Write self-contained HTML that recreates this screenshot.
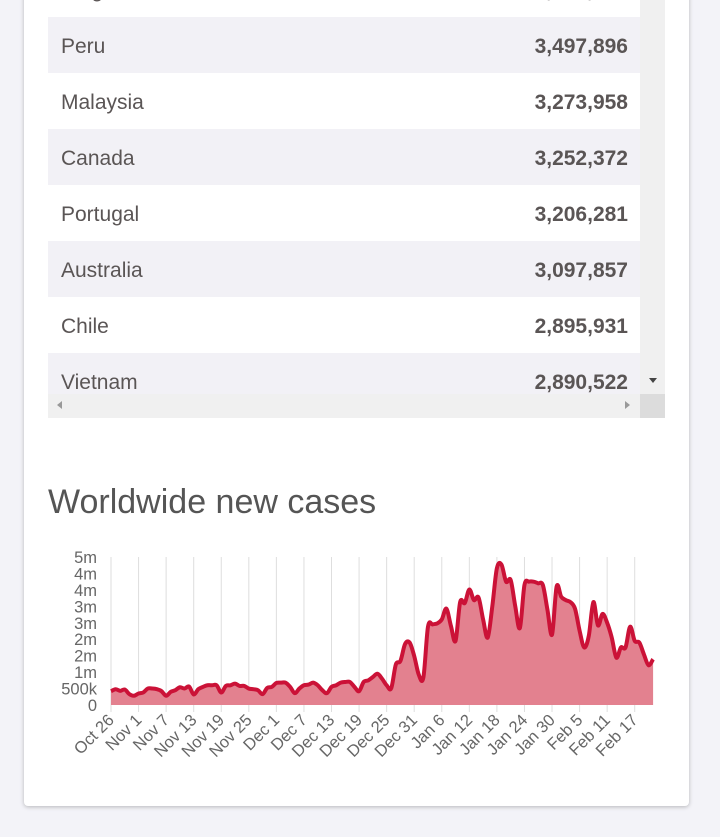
<!DOCTYPE html>
<html><head><meta charset="utf-8">
<style>
body{margin:0;width:720px;height:837px;background:#f3f3f8;overflow:hidden;font-family:"Liberation Sans",sans-serif;}
.card{position:absolute;left:24px;top:-10px;width:665px;height:816px;background:#fff;border-radius:4px;box-shadow:0 1px 4px rgba(0,0,0,.25);}
.tbl{position:absolute;left:48px;top:0;width:592px;height:394px;overflow:hidden;}
.row{position:absolute;left:0;width:592px;height:56px;font-size:21px;color:#5a5555;}
.row.g{background:#f2f1f6;}
.row .n{position:absolute;left:13px;top:18px;}
.row .v{position:absolute;right:12px;top:18px;font-weight:bold;}
.vs{position:absolute;left:640px;top:0;width:25px;height:394px;background:#f0f0f0;}
.hs{position:absolute;left:48px;top:394px;width:592px;height:24px;background:#f0f0f0;}
.corner{position:absolute;left:640px;top:394px;width:25px;height:24px;background:#dcdcdc;}
h2{position:absolute;left:48px;top:483px;margin:0;font-weight:normal;font-size:34px;color:#555;}
</style></head><body>
<div class="card"></div>
<div class="tbl">
 <div class="row" style="top:-39px"><span class="n">Belgium</span><span class="v">3,556,981</span></div>
 <div class="row g" style="top:17px"><span class="n">Peru</span><span class="v">3,497,896</span></div>
 <div class="row" style="top:73px"><span class="n">Malaysia</span><span class="v">3,273,958</span></div>
 <div class="row g" style="top:129px"><span class="n">Canada</span><span class="v">3,252,372</span></div>
 <div class="row" style="top:185px"><span class="n">Portugal</span><span class="v">3,206,281</span></div>
 <div class="row g" style="top:241px"><span class="n">Australia</span><span class="v">3,097,857</span></div>
 <div class="row" style="top:297px"><span class="n">Chile</span><span class="v">2,895,931</span></div>
 <div class="row g" style="top:353px"><span class="n">Vietnam</span><span class="v">2,890,522</span></div>
</div>
<div class="vs"><div style="position:absolute;left:9px;top:378px;border-left:4px solid transparent;border-right:4px solid transparent;border-top:5px solid #444"></div></div>
<div class="hs"><div style="position:absolute;left:9px;top:7px;border-top:4px solid transparent;border-bottom:4px solid transparent;border-right:5px solid #999"></div><div style="position:absolute;left:577px;top:7px;border-top:4px solid transparent;border-bottom:4px solid transparent;border-left:5px solid #999"></div></div>
<div class="corner"></div>
<h2>Worldwide new cases</h2>
<svg id="chart" width="720" height="837" style="position:absolute;left:0;top:0"></svg>
<script>
const values=[0.42,0.48,0.43,0.47,0.33,0.28,0.35,0.38,0.5,0.5,0.48,0.42,0.28,0.4,0.45,0.54,0.5,0.56,0.32,0.48,0.55,0.6,0.6,0.6,0.38,0.58,0.6,0.65,0.58,0.58,0.5,0.48,0.45,0.33,0.52,0.55,0.67,0.68,0.68,0.55,0.36,0.5,0.6,0.62,0.68,0.6,0.45,0.36,0.55,0.6,0.68,0.7,0.7,0.55,0.42,0.7,0.75,0.85,0.95,0.8,0.6,0.51,1.23,1.34,1.85,1.9,1.49,0.92,0.84,2.38,2.45,2.48,2.6,2.93,2.4,1.95,3.13,3.1,3.51,3.19,3.27,2.6,2.05,3.0,4.16,4.27,3.75,3.8,3.0,2.34,3.65,3.75,3.75,3.7,3.65,2.9,2.14,3.6,3.29,3.19,3.13,2.93,2.26,1.75,2.1,3.13,2.42,2.77,2.5,2.05,1.44,1.75,1.75,2.38,1.95,1.9,1.54,1.21,1.39];
const xLabels=["Oct 26","Nov 1","Nov 7","Nov 13","Nov 19","Nov 25","Dec 1","Dec 7","Dec 13","Dec 19","Dec 25","Dec 31","Jan 6","Jan 12","Jan 18","Jan 24","Jan 30","Feb 5","Feb 11","Feb 17"];
const xLabelDays=[0,6,12,18,24,30,36,42,48,54,60,66,72,78,84,90,96,102,108,114];
const yTicks=[0,0.5,1,1.5,2,2.5,3,3.5,4,4.5];
const yLabels=["0","500k","1m","2m","2m","3m","3m","4m","4m","5m"];
const svg=document.getElementById('chart');const NS='http://www.w3.org/2000/svg';
const x=d=>111+d*4.594, y=v=>705-v*(148/4.5);
function mk(t,a){const e=document.createElementNS(NS,t);for(const k in a)e.setAttribute(k,a[k]);svg.appendChild(e);return e;}
xLabelDays.forEach((d,i)=>{
 const g=mk('line',{x1:x(d),x2:x(d),y1:557,y2:712,stroke:'#dedede','stroke-width':1});
 
 
 const t=mk('text',{x:x(d)+4,y:721,'text-anchor':'end','font-size':16.5,fill:'#666',transform:`rotate(-45 ${x(d)+4} 721)`});
 t.textContent=xLabels[i];
 
 
});
yTicks.forEach((v,i)=>{
 const t=mk('text',{x:97,y:y(v)+6,'text-anchor':'end','font-size':16.5,fill:'#666'});
 t.textContent=yLabels[i];
 
 
});
const pts=values.map((v,i)=>[x(i),y(v)]);
let d='M'+pts[0][0]+','+pts[0][1];
for(let i=0;i<pts.length-1;i++){const p0=pts[Math.max(0,i-1)],p1=pts[i],p2=pts[i+1],p3=pts[Math.min(pts.length-1,i+2)];
 d+=` C${p1[0]+(p2[0]-p0[0])/6},${p1[1]+(p2[1]-p0[1])/6} ${p2[0]-(p3[0]-p1[0])/6},${p2[1]-(p3[1]-p1[1])/6} ${p2[0]},${p2[1]}`;}
const area=mk('path',{d:d+` L${pts[pts.length-1][0]},705 L${pts[0][0]},705 Z`,fill:'#e3818f'});


const line=mk('path',{d:d,fill:'none',stroke:'#cb1237','stroke-width':4,'stroke-linejoin':'round'});


</script>
</body></html>
